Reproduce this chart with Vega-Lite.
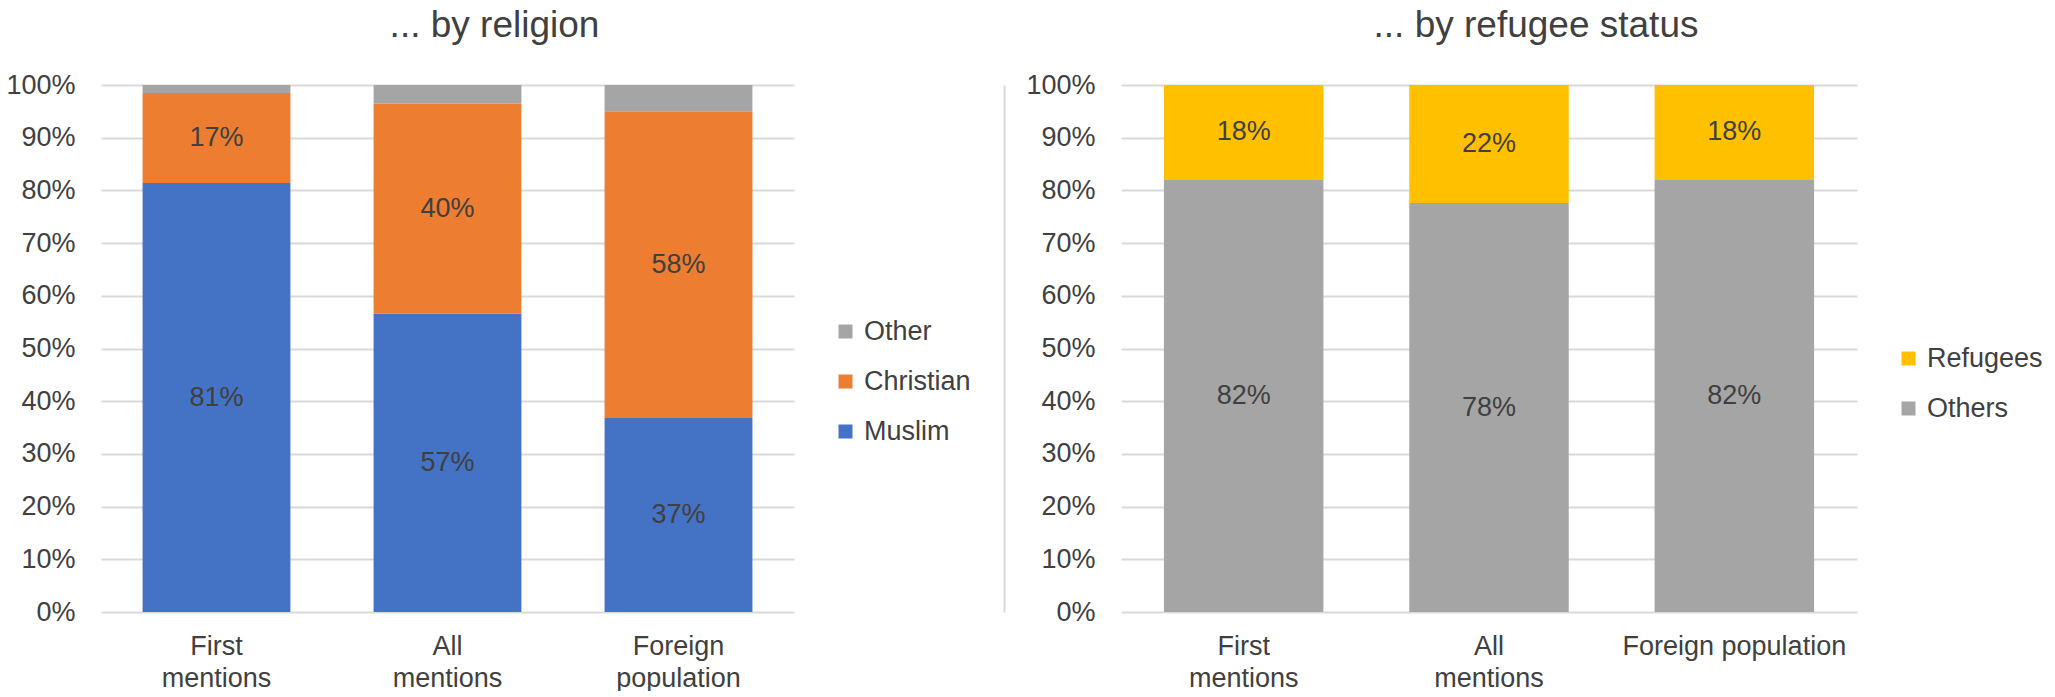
{
  "$schema": "https://vega.github.io/schema/vega-lite/v6.json",
  "background": "white",
  "padding": {"left": 5, "top": 7, "right": 0, "bottom": 0},
  "autosize": {"type": "pad"},
  "bounds": "flush",
  "spacing": 327,
  "resolve": {"scale": {"color": "independent"}, "legend": {"color": "independent"}},
  "config": {
    "font": "Liberation Sans",
    "view": {"stroke": null},
    "title": {"fontSize": 37, "fontWeight": "normal", "color": "#404040", "baseline": "alphabetic", "offset": 26, "anchor": "middle", "dx": 47},
    "axisX": {"labelFontSize": 27, "labelColor": "#404040", "labelPadding": 21, "labelLineHeight": 32, "labelLimit": 400, "ticks": false, "domain": false, "labelAngle": 0, "title": null},
    "axisY": {"labelFontSize": 27, "labelColor": "#404040", "labelPadding": 26, "ticks": false, "domain": false, "gridColor": "#D9D9D9", "gridWidth": 2, "format": ".0%", "values": [0, 0.1, 0.2, 0.3, 0.4, 0.5, 0.6, 0.7, 0.8, 0.9, 1], "title": null},
    "legend": {"labelFontSize": 27, "labelColor": "#404040", "symbolType": "square", "symbolSize": 196, "symbolStrokeWidth": 0, "labelOffset": 5, "rowPadding": 22, "orient": "none", "direction": "vertical"},
    "text": {"fontSize": 27, "color": "#404040", "align": "center", "baseline": "middle"}
  },
  "hconcat": [
    {
      "title": "... by religion",
      "width": 693,
      "height": 527,
      "data": {
        "values": [
          {"source": "First mentions", "religion": "Muslim", "rank": 1, "share": 0.814},
          {"source": "First mentions", "religion": "Christian", "rank": 2, "share": 0.171},
          {"source": "First mentions", "religion": "Other", "rank": 3, "share": 0.015},
          {"source": "All mentions", "religion": "Muslim", "rank": 1, "share": 0.566},
          {"source": "All mentions", "religion": "Christian", "rank": 2, "share": 0.399},
          {"source": "All mentions", "religion": "Other", "rank": 3, "share": 0.035},
          {"source": "Foreign population", "religion": "Muslim", "rank": 1, "share": 0.368},
          {"source": "Foreign population", "religion": "Christian", "rank": 2, "share": 0.582},
          {"source": "Foreign population", "religion": "Other", "rank": 3, "share": 0.05}
        ]
      },
      "transform": [
        {"stack": "share", "groupby": ["source"], "sort": [{"field": "rank", "order": "ascending"}], "offset": "zero", "as": ["lo", "hi"]},
        {"calculate": "(datum.lo + datum.hi) / 2", "as": "mid"}
      ],
      "encoding": {
        "x": {
          "field": "source",
          "type": "nominal",
          "sort": null,
          "scale": {"paddingInner": 0.36, "paddingOuter": 0.18},
          "axis": {"labelExpr": "split(datum.label, ' ')"}
        }
      },
      "layer": [
        {
          "mark": {"type": "bar"},
          "encoding": {
            "y": {"field": "lo", "type": "quantitative", "scale": {"domain": [0, 1]}, "axis": {"grid": true}},
            "y2": {"field": "hi"},
            "color": {
              "field": "religion",
              "type": "nominal",
              "scale": {"domain": ["Other", "Christian", "Muslim"], "range": ["#A5A5A5", "#ED7D31", "#4472C4"]},
              "legend": {"title": null, "legendX": 731, "legendY": 233}
            }
          }
        },
        {
          "transform": [{"filter": "datum.religion != 'Other'"}],
          "mark": {"type": "text"},
          "encoding": {
            "y": {"field": "mid", "type": "quantitative", "title": null},
            "text": {"field": "share", "type": "quantitative", "format": ".0%"}
          }
        }
      ]
    },
    {
      "title": "... by refugee status",
      "width": 736,
      "height": 527,
      "data": {
        "values": [
          {"source": "First mentions", "status": "Others", "share": 0.821},
          {"source": "First mentions", "status": "Refugees", "share": 0.179},
          {"source": "All mentions", "status": "Others", "share": 0.776},
          {"source": "All mentions", "status": "Refugees", "share": 0.224},
          {"source": "Foreign population", "status": "Others", "share": 0.821},
          {"source": "Foreign population", "status": "Refugees", "share": 0.179}
        ]
      },
      "transform": [
        {"stack": "share", "groupby": ["source"], "sort": [{"field": "status", "order": "ascending"}], "offset": "zero", "as": ["lo", "hi"]},
        {"calculate": "(datum.lo + datum.hi) / 2", "as": "mid"}
      ],
      "encoding": {
        "x": {
          "field": "source",
          "type": "nominal",
          "sort": null,
          "scale": {"paddingInner": 0.35, "paddingOuter": 0.175},
          "axis": {"labelExpr": "datum.label == 'Foreign population' ? datum.label : split(datum.label, ' ')"}
        }
      },
      "layer": [
        {
          "mark": {"type": "bar"},
          "encoding": {
            "y": {"field": "lo", "type": "quantitative", "scale": {"domain": [0, 1]}, "axis": {"grid": true}},
            "y2": {"field": "hi"},
            "color": {
              "field": "status",
              "type": "nominal",
              "scale": {"domain": ["Refugees", "Others"], "range": ["#FFC000", "#A5A5A5"]},
              "legend": {"title": null, "legendX": 774, "legendY": 260}
            }
          }
        },
        {
          "mark": {"type": "text"},
          "encoding": {
            "y": {
              "field": "mid",
              "type": "quantitative",
              "axis": {"orient": "left", "offset": 117, "labels": false, "grid": false, "domain": true, "domainColor": "#D9D9D9", "domainWidth": 2, "title": null}
            },
            "text": {"field": "share", "type": "quantitative", "format": ".0%"}
          }
        }
      ],
      "resolve": {"axis": {"y": "independent"}}
    }
  ]
}
